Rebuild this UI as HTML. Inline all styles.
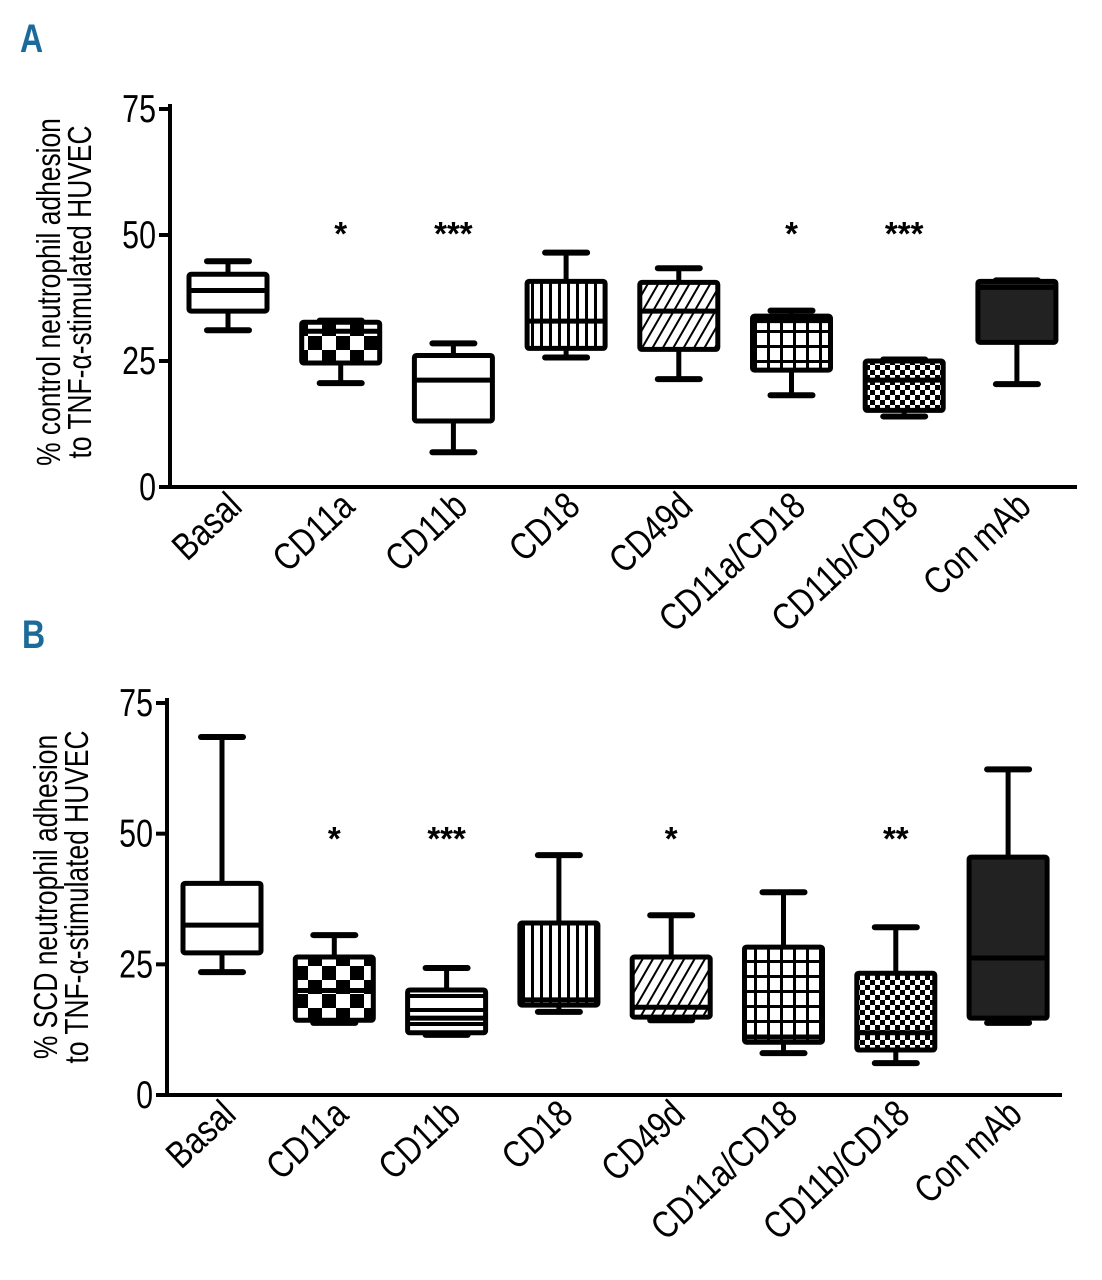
<!DOCTYPE html>
<html><head><meta charset="utf-8">
<style>
html,body{margin:0;padding:0;background:#fff;}
svg{display:block;}
text{font-family:"Liberation Sans",sans-serif;}
</style></head>
<body>
<svg id="fig" width="1102" height="1280" viewBox="0 0 1102 1280" xmlns="http://www.w3.org/2000/svg">
<defs>
<pattern id="pChk" width="28" height="28" patternUnits="userSpaceOnUse"><rect width="28" height="28" fill="#fff"/><rect width="14" height="14" fill="#000"/><rect x="14" y="14" width="14" height="14" fill="#000"/></pattern>
<pattern id="pVert" width="9" height="10" patternUnits="userSpaceOnUse"><rect width="9" height="10" fill="#fff"/><rect width="3" height="10" fill="#000"/></pattern>
<pattern id="pDiag" width="9" height="9" patternUnits="userSpaceOnUse" patternTransform="rotate(30)"><rect width="9" height="9" fill="#fff"/><rect width="2" height="9" fill="#000"/></pattern>
<pattern id="pGrid" width="13" height="15" patternUnits="userSpaceOnUse"><rect width="13" height="15" fill="#000"/><rect x="3" y="3" width="10" height="12" fill="#fff"/></pattern>
<pattern id="pFine" width="10" height="10" patternUnits="userSpaceOnUse"><rect width="10" height="10" fill="#fff"/><rect width="5" height="5" fill="#000"/><rect x="5" y="5" width="5" height="5" fill="#000"/></pattern>
<pattern id="pHor" width="10" height="14" patternUnits="userSpaceOnUse"><rect width="10" height="14" fill="#fff"/><rect y="0" width="10" height="4" fill="#000"/></pattern>
</defs>
<text x="20" y="52" font-size="40" font-weight="bold" fill="#1b6a9a" transform="translate(20,52) scale(0.8,1) translate(-20,-52)">A</text>
<text x="22" y="648" font-size="40" font-weight="bold" fill="#1b6a9a" transform="translate(22,648) scale(0.8,1) translate(-22,-648)">B</text>
</svg>
<script>
const categories=["Basal","CD11a","CD11b","CD18","CD49d","CD11a/CD18","CD11b/CD18","Con mAb"];
const ticks=[0,25,50,75];
// panel A: [low, q1, median, q3, high]
const aLow=[31.1,20.6,6.9,25.7,21.4,18.2,14.0,20.4];
const aQ1=[34.9,24.6,13.1,27.5,27.3,23.2,15.2,28.7];
const aMed=[39.0,30.9,21.2,32.9,34.9,33.0,21.2,39.6];
const aQ3=[42.2,32.7,26.1,40.8,40.6,33.9,25.0,40.8];
const aHigh=[44.8,33.0,28.5,46.5,43.4,35.0,25.3,41.0];
const aStars=["","*","***","","","*","***",""];
// panel B
const bLow=[23.5,13.8,11.5,15.9,14.3,8.0,6.1,13.8];
const bQ1=[27.2,14.3,11.9,17.2,14.9,10.1,8.6,14.7];
const bMed=[32.5,20.0,14.7,18.2,16.8,11.1,11.9,26.2];
const bQ3=[40.5,26.4,20.1,32.9,26.4,28.3,23.3,45.5];
const bHigh=[68.5,30.6,24.3,45.9,34.4,38.8,32.1,62.3];
const bStars=["","*","***","","*","","**",""];

const fillsA=["#fff","url(#pChk)","#fff","url(#pVert)","url(#pDiag)","url(#pGrid)","url(#pFine)","#222"];
const fillsB=["#fff","url(#pChk)","url(#pHor)","url(#pVert)","url(#pDiag)","url(#pGrid)","url(#pFine)","#222"];
const NS="http://www.w3.org/2000/svg";
const svg=document.getElementById('fig');
function mk(tag,attrs,parent){const e=document.createElementNS(NS,tag);for(const k in attrs)e.setAttribute(k,attrs[k]);(parent||svg).appendChild(e);return e;}

function panel(p){
  const g=mk('g',{});
  
  
  const y=v=>p.y0-(v/75)*(p.y0-p.y75);
  const x=i=>p.c0+i*p.step;
  const ya=mk('line',{x1:p.ax,y1:p.y75-5,x2:p.ax,y2:p.y0+2,stroke:'#000','stroke-width':4},g);
  
  
  const xa=mk('line',{x1:p.ax-2,y1:p.y0,x2:p.xEnd,y2:p.y0,stroke:'#000','stroke-width':4},g);
  
  
  ticks.forEach(t=>{
    const tl=mk('line',{x1:p.ax-11,y1:y(t),x2:p.ax,y2:y(t),stroke:'#000','stroke-width':4},g);
    
    
    const tx=mk('text',{x:p.ax-14,y:y(t)+13,'font-size':39,'text-anchor':'end',transform:`translate(${p.ax-14},0) scale(0.78,1) translate(${-(p.ax-14)},0)`},g);
    tx.textContent=t;
    
    
  });
  const tt=mk('text',{'font-size':33,'text-anchor':'middle',transform:`translate(${p.tx},${p.ty}) rotate(-90) scale(0.8,1)`},g);
  
  
  const t1=mk('tspan',{x:0,y:0},tt);t1.textContent=p.title1;
  const t2=mk('tspan',{x:0,y:31},tt);t2.textContent=p.title2;
  const w=78,cw=42;
  categories.forEach((c,i)=>{
    const cx=x(i);
    const bg=mk('g',{},g);
    
    
    mk('line',{x1:cx,y1:y(p.high[i]),x2:cx,y2:y(p.q3[i]),stroke:'#000','stroke-width':5},bg);
    mk('line',{x1:cx,y1:y(p.low[i]),x2:cx,y2:y(p.q1[i]),stroke:'#000','stroke-width':5},bg);
    mk('line',{x1:cx-cw/2,y1:y(p.high[i]),x2:cx+cw/2,y2:y(p.high[i]),stroke:'#000','stroke-width':6,'stroke-linecap':'round'},bg);
    mk('line',{x1:cx-cw/2,y1:y(p.low[i]),x2:cx+cw/2,y2:y(p.low[i]),stroke:'#000','stroke-width':6,'stroke-linecap':'round'},bg);
    mk('rect',{x:cx-w/2,y:y(p.q3[i]),width:w,height:y(p.q1[i])-y(p.q3[i]),fill:p.fills[i],stroke:'#000','stroke-width':5,rx:2},bg);
    mk('line',{x1:cx-w/2,y1:y(p.med[i]),x2:cx+w/2,y2:y(p.med[i]),stroke:'#000','stroke-width':5},bg);
    if(p.stars[i]){
      const s=mk('text',{x:cx,y:p.starY+20,'font-size':33,'font-weight':'bold','text-anchor':'middle'},g);
      s.textContent=p.stars[i];
      
      
    }
    const lx=cx+16, ly=p.y0+22;
    const l=mk('text',{'font-size':38,'text-anchor':'end',transform:`translate(${lx},${ly}) rotate(-43) scale(0.82,1)`},g);
    l.textContent=c;
    
    
  });
}
panel({name:'panel-a-chart',ax:170,xEnd:1077,y0:487,y75:109,c0:228,step:112.7,tx:60,ty:292,
  title1:'% control neutrophil adhesion',title2:'to TNF-\u03B1-stimulated HUVEC',
  low:aLow,q1:aQ1,med:aMed,q3:aQ3,high:aHigh,stars:aStars,fills:fillsA,starY:225});
panel({name:'panel-b-chart',ax:167,xEnd:1062,y0:1095,y75:703,c0:222,step:112.3,tx:57,ty:897,
  title1:'% SCD neutrophil adhesion',title2:'to TNF-\u03B1-stimulated HUVEC',
  low:bLow,q1:bQ1,med:bMed,q3:bQ3,high:bHigh,stars:bStars,fills:fillsB,starY:830});
</script>
</body></html>
